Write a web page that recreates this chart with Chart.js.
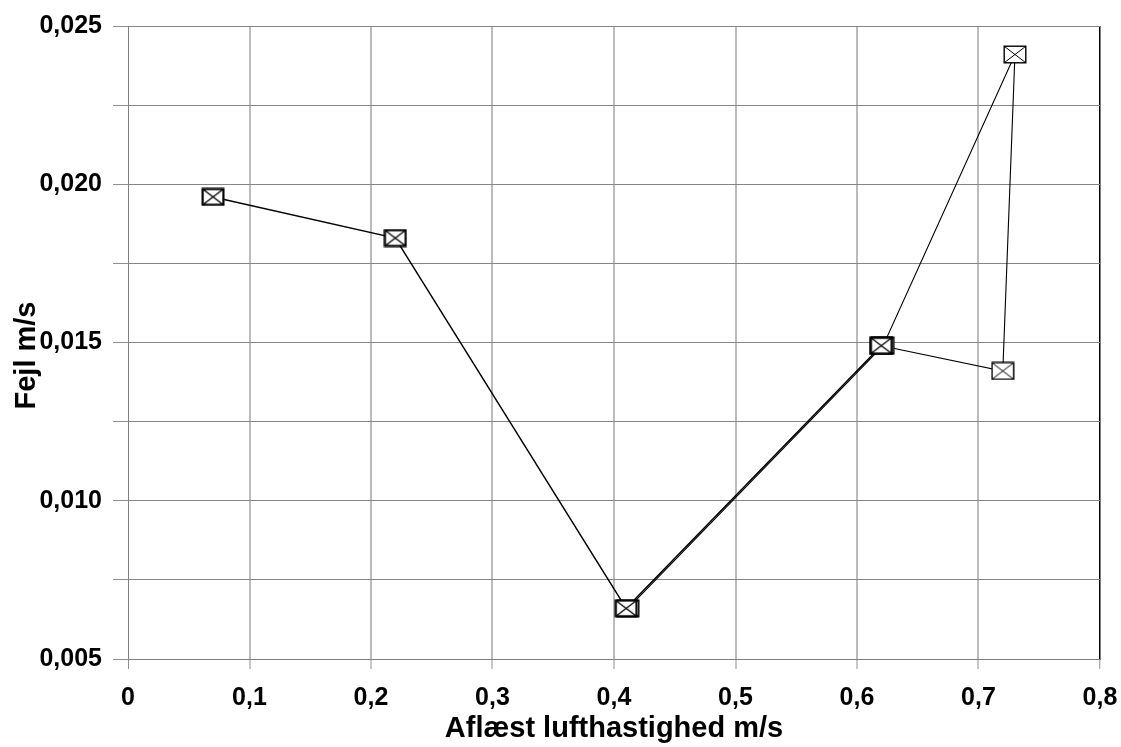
<!DOCTYPE html>
<html>
<head>
<meta charset="utf-8">
<script src="https://cdn.jsdelivr.net/npm/chart.js@4"></script>
<style>
  html, body { margin: 0; padding: 0; background: #fff; }
  #wrap { width: 1121px; height: 747px; }
</style>
</head>
<body>
<div id="wrap"><canvas id="c" width="1121" height="747"></canvas></div>
<script>
// Measured air speed (m/s) and error (m/s), first run
const speedA = [0.07, 0.22, 0.41, 0.62];
const errorA = [0.0196, 0.0183, 0.0066, 0.0149];
// Second run: continues past 0.62 up to the top reading and back
const speedB = [0.4115, 0.6215, 0.73, 0.72, 0.62];
const errorB = [0.0066, 0.0149, 0.0241, 0.0141, 0.0149];

// Axis ranges and tick spacing
const xRange = [0, 0.8];
const xStep = 0.1;
const yRange = [0.005, 0.025];
const yStep = 0.0025;
const yLabelStep = 0.005;

const xTitle = 'Aflæst lufthastighed m/s';
const yTitle = 'Fejl m/s';

const FONT = "'Liberation Sans', Arial, sans-serif";

// Square marker with a cross through it
function boxCross(border, cross) {
  const w = 24, h = 19;
  const cv = document.createElement('canvas');
  cv.width = w; cv.height = h;
  const g = cv.getContext('2d');
  g.fillStyle = '#fff';
  g.fillRect(1, 1, w - 2, h - 2);
  g.strokeStyle = '#000';
  g.lineWidth = cross;
  g.beginPath();
  g.moveTo(1.5, 1.5); g.lineTo(w - 1.5, h - 1.5);
  g.moveTo(w - 1.5, 1.5); g.lineTo(1.5, h - 1.5);
  g.stroke();
  g.lineWidth = border;
  g.strokeRect(border / 2 + 0.5, border / 2 + 0.5, w - border - 1, h - border - 1);
  return cv;
}

const toPoints = (xs, ys) => xs.map((x, i) => ({ x, y: ys[i] }));

const commaFmt = (v, d) => (Math.abs(v) < 1e-12 ? '0' : v.toFixed(d).replace('.', ','));

// Axis titles, placed against the chart area
const axisTitles = {
  id: 'axisTitles',
  afterDraw(chart) {
    const { ctx, chartArea } = chart;
    ctx.save();
    ctx.fillStyle = '#000';
    ctx.font = `bold 29px ${FONT}`;
    ctx.textAlign = 'center';
    ctx.textBaseline = 'alphabetic';
    ctx.fillText(xTitle, (chartArea.left + chartArea.right) / 2, 737);
    ctx.translate(35, (chartArea.top + chartArea.bottom) / 2 + 13);
    ctx.rotate(-Math.PI / 2);
    ctx.fillText(yTitle, 0, 0);
    ctx.restore();
  }
};

new Chart(document.getElementById('c'), {
  type: 'scatter',
  data: {
    datasets: [
      {
        data: toPoints(speedA, errorA),
        showLine: true,
        borderColor: '#000',
        borderWidth: 1.5,
        pointStyle: boxCross(2.2, 1.3),
        pointRadius: 11,
        tension: 0
      },
      {
        data: toPoints(speedB, errorB),
        showLine: true,
        borderColor: '#000',
        borderWidth: 1.1,
        pointStyle: boxCross(1.4, 1),
        pointRadius: 11,
        tension: 0
      }
    ]
  },
  options: {
    responsive: false,
    animation: false,
    devicePixelRatio: 1,
    layout: { padding: { top: 26, right: 21, bottom: 0, left: 0 } },
    plugins: { legend: { display: false }, tooltip: { enabled: false } },
    scales: {
      x: {
        type: 'linear',
        min: xRange[0],
        max: xRange[1],
        afterFit: (s) => { s.height = 88; s.paddingLeft = 0; s.paddingRight = 0; },
        ticks: {
          stepSize: xStep,
          color: '#000',
          padding: 14,
          maxRotation: 0,
          font: { family: FONT, size: 25, weight: 'bold' },
          callback: (v) => commaFmt(v, 1)
        },
        grid: {
          color: (c) => {
            const v = c.tick ? c.tick.value : 0;
            if (v >= xRange[1] - 1e-9) return '#000';
            if (v <= xRange[0] + 1e-9) return '#808080';
            return '#bbbbbb';
          },
          lineWidth: (c) => {
            const v = c.tick ? c.tick.value : 0;
            if (v >= xRange[1] - 1e-9) return 1.5;
            if (v <= xRange[0] + 1e-9) return 1;
            return 2;
          },
          tickColor: '#909090',
          tickLength: 10,
          tickWidth: 1
        },
        border: { display: true, color: '#808080', width: 1 },
        title: { display: false }
      },
      y: {
        type: 'linear',
        min: yRange[0],
        max: yRange[1],
        afterFit: (s) => { s.width = 128; s.paddingTop = 0; s.paddingBottom = 0; },
        ticks: {
          stepSize: yStep,
          color: '#000',
          padding: 11,
          font: { family: FONT, size: 25, weight: 'bold' },
          callback: (v) => {
            const r = v / yLabelStep;
            return Math.abs(r - Math.round(r)) < 1e-6 ? commaFmt(v, 3) : '';
          }
        },
        grid: {
          color: '#858585',
          lineWidth: 1,
          tickColor: '#909090',
          tickLength: 15,
          tickWidth: 1
        },
        border: { display: true, color: '#808080', width: 1 },
        title: { display: false }
      }
    }
  },
  plugins: [axisTitles]
});
</script>
</body>
</html>
